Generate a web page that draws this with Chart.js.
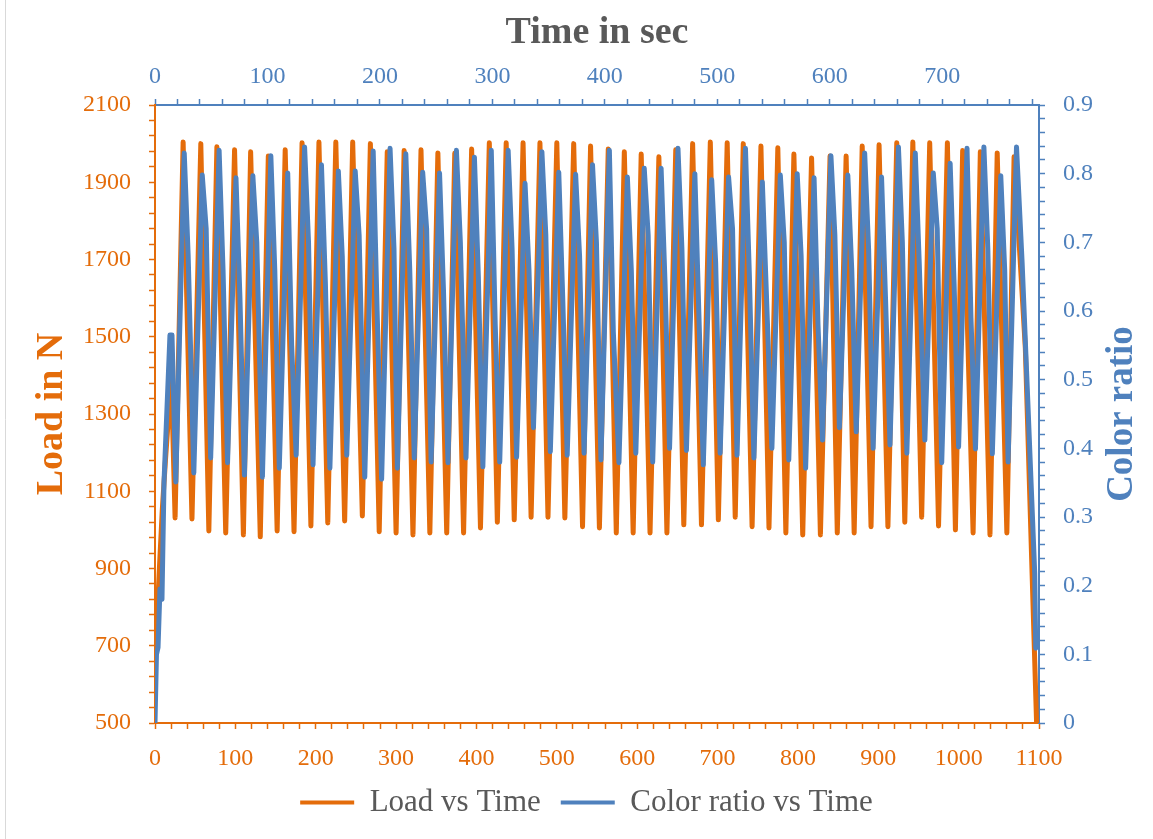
<!DOCTYPE html>
<html>
<head>
<meta charset="utf-8">
<title>Load and color ratio vs time</title>
<script src="https://cdn.jsdelivr.net/npm/chart.js@4.4.1/dist/chart.umd.min.js"></script>
<style>
    html, body { margin: 0; padding: 0; background: #ffffff; }
    #wrap { width: 1153px; height: 839px; }
</style>
</head>
<body>
<div id="wrap"><canvas id="timeChart" width="1153" height="839"></canvas></div>
<script>
// Load vs Time, read against the bottom axis (sec)
const loadTime = [
    0, 2, 5, 9, 13, 17, 20,
    25, 35, 46, 57, 67, 77, 88, 99, 110, 119, 131, 141,
    152, 162, 173, 183, 194, 204, 215, 225, 236, 246, 258, 268,
    279, 289, 300, 310, 321, 331, 342, 352, 363, 373, 384, 394,
    405, 416, 426, 437, 447, 458, 468, 479, 489, 500, 510, 521,
    532, 542, 553, 564, 574, 584, 595, 605, 616, 627, 637, 648,
    658, 669, 680, 691, 701, 712, 722, 732, 743, 754, 764, 775,
    785, 795, 806, 817, 828, 840, 849, 860, 870, 880, 891, 901,
    912, 923, 933, 943, 954, 964, 975, 986, 996, 1005, 1018, 1027,
    1039, 1048, 1060, 1069,
    1083, 1097
];
const loadN = [
    660, 740, 880, 1050, 1180, 1300, 1420,
    1031, 2004, 1028, 2000, 997, 1992, 992, 1984, 987, 1979, 982, 1968,
    997, 1984, 995, 2002, 1010, 2004, 1018, 2004, 1023, 2004, 1036, 2000,
    995, 1979, 992, 1982, 987, 1984, 992, 1976, 992, 1975, 992, 1986,
    1005, 2002, 1020, 2002, 1026, 2002, 1033, 2002, 1033, 2002, 1031, 2000,
    1008, 1994, 1005, 1986, 992, 1979, 992, 1973, 992, 1966, 992, 1984,
    1013, 2000, 1013, 2004, 1026, 2002, 1033, 2000, 1008, 1994, 1005, 1989,
    992, 1973, 987, 1963, 987, 1968, 992, 1968, 992, 1994, 1008, 1997,
    1008, 2002, 1020, 2004, 1033, 2002, 1010, 2002, 1000, 1982, 992, 1979,
    987, 1976, 992, 1966,
    1470, 500
];

// Color ratio vs Time, read against the top axis (sec)
const colorTime = [
    0, 1.3, 2.7, 4.4, 6.2, 8, 10.7, 13.3, 15.1,
    18.5, 26, 29.5,   34.5, 42, 45.5,   49.5, 57, 60.5,   64.5, 72, 75.5,
    79.5, 87, 90.5,   95.5, 103, 106.5, 110.5, 118, 121.5, 125.5, 133, 136.5,
    140.5, 148, 151.5, 155.5, 163, 166.5, 170.5, 178, 181.5, 186.5, 194, 197.5,
    201.5, 209, 212.5, 215.5, 223, 226.5, 230.5, 238, 241.5, 245.5, 253, 256.5,
    260.5, 268, 271.5, 276.5, 284, 287.5, 291.5, 299, 302.5, 306.5, 314, 317.5,
    321.5, 329, 332.5, 336.5, 344, 347.5, 351.5, 359, 362.5, 366.5, 374, 377.5,
    381.5, 389, 392.5, 396.5, 404, 407.5, 412.5, 420, 423.5, 427.5, 435, 438.5,
    442.5, 450, 453.5, 457.5, 465, 468.5, 472.5, 480, 483.5, 487.5, 495, 498.5,
    502.5, 510, 513.5, 517.5, 525, 528.5, 532.5, 540, 543.5, 548.5, 556, 559.5,
    563.5, 571, 574.5, 578.5, 586, 589.5, 593.5, 601, 604.5, 608.5, 616, 619.5,
    623.5, 631, 634.5, 638.5, 646, 649.5, 653.5, 661, 664.5, 668.5, 676, 679.5,
    684.5, 692, 695.5, 699.5, 707, 710.5, 714.5, 722, 725.5, 729.5, 737, 740.5,
    744.5, 752, 755.5, 758.5, 766,
    771, 776, 782.2, 783.1
];
const colorRatio = [
    0, 0.10, 0.11, 0.195, 0.18, 0.35, 0.46, 0.565, 0.565,
    0.351, 0.830, 0.68,  0.364, 0.798, 0.72,  0.386, 0.834, 0.66,  0.379, 0.794, 0.62,
    0.361, 0.797, 0.70,  0.358, 0.826, 0.66,  0.371, 0.801, 0.55,  0.390, 0.839, 0.70,
    0.376, 0.813, 0.64,  0.371, 0.804, 0.68,  0.390, 0.804, 0.71,  0.358, 0.833, 0.60,
    0.355, 0.837, 0.69,  0.371, 0.829, 0.66,  0.386, 0.802, 0.72,  0.380, 0.801, 0.63,
    0.379, 0.834, 0.70,  0.386, 0.824, 0.65,  0.373, 0.834, 0.58,  0.380, 0.834, 0.69,
    0.387, 0.786, 0.66,  0.430, 0.832, 0.71,  0.395, 0.802, 0.62,  0.390, 0.799, 0.68,
    0.393, 0.813, 0.70,  0.383, 0.834, 0.57,  0.379, 0.795, 0.66,  0.393, 0.808, 0.71,
    0.380, 0.808, 0.64,  0.400, 0.837, 0.69,  0.397, 0.800, 0.60,  0.376, 0.791, 0.67,
    0.393, 0.795, 0.72,  0.390, 0.837, 0.65,  0.386, 0.788, 0.63,  0.400, 0.798, 0.70,
    0.383, 0.800, 0.68,  0.371, 0.794, 0.58,  0.412, 0.826, 0.71,  0.430, 0.798, 0.66,
    0.424, 0.830, 0.69,  0.400, 0.795, 0.62,  0.405, 0.839, 0.70,  0.393, 0.830, 0.67,
    0.412, 0.801, 0.72,  0.379, 0.815, 0.64,  0.402, 0.837, 0.59,  0.399, 0.839, 0.69,
    0.392, 0.797, 0.66,  0.380, 0.839,
    0.67, 0.47, 0.218, 0.109
];

// axis ranges: [min, max, labelled step, minor step]
const bottomAxis = [0, 1100, 100, 20];
const topAxis = [0, 786, 100, 20];
const leftAxis = [500, 2100, 200, 40];
const rightAxis = [0, 0.9, 0.1, 0.02];

const ORANGE = '#E46C0A';
const BLUE = '#4F81BD';
const GREY = '#595959';
const FONT = '"Liberation Serif", "Times New Roman", serif';

function toPoints(xs, ys) {
    return xs.map((x, i) => ({ x: x, y: ys[i] }));
}

function isMajor(value, axis) {
    const steps = (value - axis[0]) / axis[2];
    return Math.abs(steps - Math.round(steps)) < 1e-6;
}

function axisTicks(axis, color, pad) {
    return {
        stepSize: axis[3],
        autoSkip: false,
        maxRotation: 0,
        padding: pad,
        color: color,
        font: { family: FONT, size: 24 },
        callback: function (value) {
            if (!isMajor(value, axis)) return '';
            return axis[2] < 1 ? (value === 0 ? '0' : value.toFixed(1)) : String(value);
        }
    };
}

function axisGrid(color) {
    return { drawOnChartArea: false, drawTicks: true, tickLength: 6, tickColor: color, tickWidth: 1.5 };
}

const chartFrame = {
    id: 'chartFrame',
    beforeDraw(chart) {
        const ctx = chart.ctx;
        ctx.save();
        ctx.fillStyle = '#ffffff';
        ctx.fillRect(0, 0, chart.width, chart.height);
        ctx.strokeStyle = '#D9D9D9';
        ctx.lineWidth = 1;
        ctx.beginPath();
        ctx.moveTo(5.5, 0);
        ctx.lineTo(5.5, chart.height);
        ctx.stroke();
        ctx.restore();
    },
    afterDraw(chart) {
        // secondary axis title reads bottom-to-top, like the primary one
        const ctx = chart.ctx;
        const area = chart.chartArea;
        ctx.save();
        ctx.translate(chart.scales.y2.right - 31, (area.top + area.bottom) / 2);
        ctx.rotate(-Math.PI / 2);
        ctx.font = 'bold 37px ' + FONT;
        ctx.fillStyle = BLUE;
        ctx.textAlign = 'center';
        ctx.textBaseline = 'middle';
        ctx.fillText('Color ratio', 0, 0);
        ctx.restore();
    }
};

const ctx = document.getElementById('timeChart').getContext('2d');
const timeChart = new Chart(ctx, {
    type: 'line',
    data: {
        datasets: [{
            label: 'Load vs Time',
            data: toPoints(loadTime, loadN),
            xAxisID: 'x',
            yAxisID: 'y',
            borderColor: ORANGE,
            backgroundColor: ORANGE,
            borderWidth: 5,
            pointRadius: 0,
            tension: 0,
            borderJoinStyle: 'round',
            borderCapStyle: 'round',
            order: 2
        }, {
            label: 'Color ratio vs Time',
            data: toPoints(colorTime, colorRatio),
            xAxisID: 'x2',
            yAxisID: 'y2',
            borderColor: BLUE,
            backgroundColor: BLUE,
            borderWidth: 5,
            pointRadius: 0,
            tension: 0,
            borderJoinStyle: 'round',
            borderCapStyle: 'round',
            order: 1
        }]
    },
    options: {
        responsive: false,
        animation: false,
        layout: { padding: { left: 20, right: 0, top: 0, bottom: 11 } },
        plugins: {
            tooltip: { enabled: false },
            legend: {
                position: 'bottom',
                labels: {
                    color: GREY,
                    font: { family: FONT, size: 31 },
                    boxWidth: 54,
                    boxHeight: 4,
                    padding: 20,
                    sort: (a, b) => a.datasetIndex - b.datasetIndex,
                    generateLabels: function (chart) {
                        return Chart.defaults.plugins.legend.labels.generateLabels(chart).map(item => {
                            item.fillStyle = item.strokeStyle;
                            item.lineWidth = 0;
                            return item;
                        });
                    }
                }
            }
        },
        scales: {
            x: {
                type: 'linear',
                position: 'bottom',
                min: bottomAxis[0],
                max: bottomAxis[1],
                ticks: axisTicks(bottomAxis, ORANGE, 15),
                grid: axisGrid(ORANGE),
                border: { display: true, color: ORANGE, width: 2 },
                afterFit: scale => { scale.height = 44; }
            },
            x2: {
                type: 'linear',
                position: 'top',
                min: topAxis[0],
                max: topAxis[1],
                ticks: Object.assign(axisTicks(topAxis, BLUE, 8), { includeBounds: false }),
                grid: axisGrid(BLUE),
                border: { display: true, color: BLUE, width: 2 },
                title: {
                    display: true,
                    text: 'Time in sec',
                    color: GREY,
                    font: { family: FONT, size: 38, weight: 'bold' },
                    padding: { top: 10, bottom: 0 }
                },
                afterFit: scale => { scale.height = 105; }
            },
            y: {
                type: 'linear',
                position: 'left',
                min: leftAxis[0],
                max: leftAxis[1],
                ticks: axisTicks(leftAxis, ORANGE, 18),
                grid: axisGrid(ORANGE),
                border: { display: true, color: ORANGE, width: 2 },
                title: {
                    display: true,
                    text: 'Load in N',
                    color: ORANGE,
                    font: { family: FONT, size: 38, weight: 'bold' },
                    padding: { top: 9, bottom: 0 }
                },
                afterFit: scale => { scale.width = 135; }
            },
            y2: {
                type: 'linear',
                position: 'right',
                min: rightAxis[0],
                max: rightAxis[1],
                ticks: axisTicks(rightAxis, BLUE, 18),
                grid: axisGrid(BLUE),
                border: { display: true, color: BLUE, width: 2 },
                afterFit: scale => { scale.width = 114; }
            }
        }
    },
    plugins: [chartFrame]
});
</script>
</body>
</html>
